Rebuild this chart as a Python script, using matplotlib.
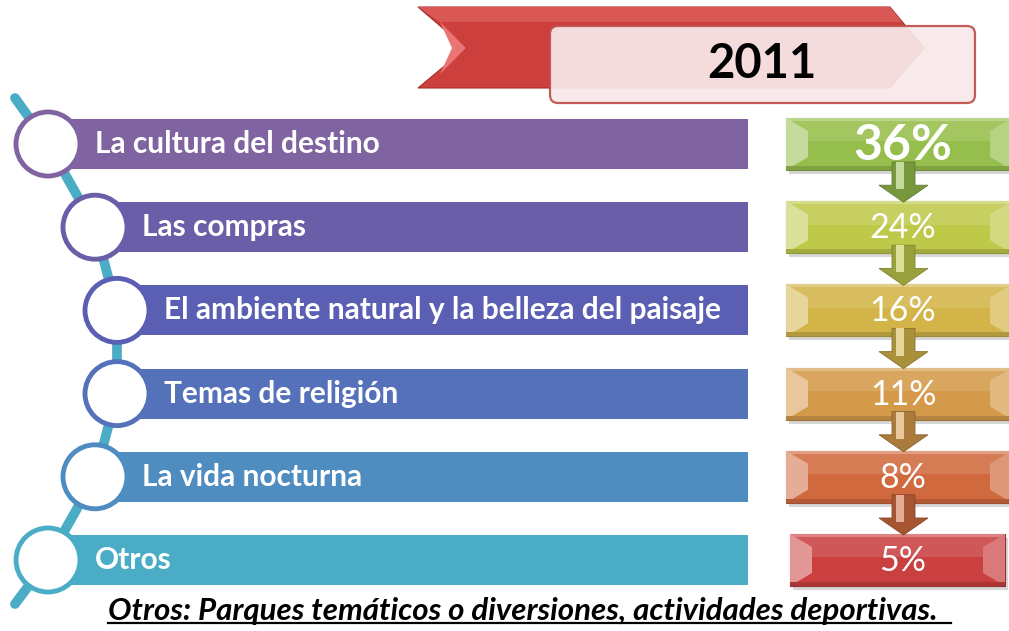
import matplotlib.pyplot as plt
import matplotlib.colors as mcolors
from matplotlib.patches import Rectangle, Circle, Polygon, FancyBboxPatch

# data
year = "2011"
categories = [
    "La cultura del destino",
    "Las compras",
    "El ambiente natural y la belleza del paisaje",
    "Temas de religión",
    "La vida nocturna",
    "Otros",
]
shares = [36, 24, 16, 11, 8, 5]
footnote = "Otros: Parques temáticos o diversiones, actividades deportivas."

bar_colors = ["#8064A2", "#6B5EA8", "#5A5FB4", "#5471BA", "#4F8CC0", "#4BACC6"]
box_colors = ["#96BE4C", "#BEC94A", "#D3B449", "#D49A4A", "#D06A3E", "#CA4040"]
line_color = "#4BACC6"


def shade(c, f):
    r, g, b = mcolors.to_rgb(c)
    if f > 0:
        return (r + (1 - r) * f, g + (1 - g) * f, b + (1 - b) * f)
    return (r * (1 + f), g * (1 + f), b * (1 + f))


fig = plt.figure(figsize=(10.09, 6.31), dpi=100)
ax = fig.add_axes([0, 0, 1, 1])
ax.set_xlim(0, 1009)
ax.set_ylim(631, 0)
ax.axis("off")

row_y = [144 + 83.2 * i for i in range(len(categories))]
circ_x = [48, 95, 117, 117, 95, 48]
bar_end = 748
bar_h = 50

# teal connector behind the circles
path_x = [15] + circ_x + [15]
path_y = [98] + row_y + [604]
ax.plot(path_x, path_y, color=line_color, lw=7, solid_capstyle="round", zorder=1)

# left bars with circles
for i, (lab, y) in enumerate(zip(categories, row_y)):
    cx = circ_x[i]
    ax.add_patch(Rectangle((cx, y - bar_h / 2), bar_end - cx, bar_h,
                           facecolor=bar_colors[i], edgecolor="none", zorder=2))
    ax.add_patch(Circle((cx, y), 32, facecolor="white", edgecolor=bar_colors[i],
                        lw=3.5, zorder=3))
    ax.text(cx + 47, y, lab, color="white", fontsize=21.5, fontweight="bold",
            family="Lato", va="center", ha="left", zorder=4)

# right boxes with bevel and arrows
box_x0, box_x1, box_h = 786, 1012, 52
for i, (v, y) in enumerate(zip(shares, row_y)):
    c = box_colors[i]
    x0, x1 = box_x0, box_x1
    if i == len(shares) - 1:
        x0, x1 = 790, 1005
    top, bot = y - box_h / 2, y + box_h / 2
    ax.add_patch(Rectangle((x0 + 3, top + 4), x1 - x0, box_h, facecolor="#bbbbbb",
                           edgecolor="none", zorder=2, alpha=0.6))
    ax.add_patch(Rectangle((x0, top), x1 - x0, box_h, facecolor=c,
                           edgecolor=shade(c, -0.25), lw=0.8, zorder=3))
    ax.add_patch(Rectangle((x0, top), x1 - x0, box_h * 0.45, facecolor=shade(c, 0.12),
                           edgecolor="none", zorder=3))
    ax.add_patch(Rectangle((x0, top), x1 - x0, 3, facecolor=shade(c, 0.35),
                           edgecolor="none", zorder=3))
    ax.add_patch(Polygon([(x0, top), (x0 + 22, top + 13), (x0 + 22, bot - 13), (x0, bot)],
                         facecolor=shade(c, 0.45), edgecolor="none", zorder=3))
    ax.add_patch(Polygon([(x1, top), (x1 - 22, top + 13), (x1 - 22, bot - 13), (x1, bot)],
                         facecolor=shade(c, 0.3), edgecolor="none", zorder=3))
    ax.add_patch(Rectangle((x0, bot - 4), x1 - x0, 4, facecolor=shade(c, -0.15),
                           edgecolor="none", zorder=3))
    if i == 0:
        ax.text(903, y + 1, f"{v}%", color="white", fontsize=36, fontweight="bold",
                family="Lato", ha="center", va="center", zorder=6)
    else:
        ax.text(903, y + 1, f"{v}%", color="white", fontsize=24.5,
                family="Lato", ha="center", va="center", zorder=6)
    if i < len(shares) - 1:
        a_top = y + 18
        a_bot = row_y[i + 1] - 25
        head = a_bot - 17
        ac = shade(c, -0.2)
        ax.add_patch(Polygon([(892, a_top), (915, a_top), (915, head), (928, head),
                              (903.5, a_bot), (879, head), (892, head)],
                             facecolor=ac, edgecolor=shade(c, -0.35), lw=0.6, zorder=5))
        ax.add_patch(Polygon([(896, a_top), (904, a_top), (904, head + 4), (896, head + 4)],
                             facecolor=shade(c, 0.45), edgecolor="none", zorder=5))

# title ribbon and box
ribbon = Polygon([(418, 7), (890, 7), (924, 48), (890, 88), (418, 88), (466, 48)],
                 facecolor="#CC3F3D", edgecolor="#A52E2C", lw=0.8, zorder=2)
ax.add_patch(ribbon)
ax.add_patch(Polygon([(418, 7), (890, 7), (902, 22), (440, 22)],
                     facecolor="#D95755", edgecolor="none", zorder=2))
ax.add_patch(Polygon([(440, 22), (466, 48), (440, 74), (452, 48)],
                     facecolor="#E77674", edgecolor="none", zorder=2))
ax.add_patch(FancyBboxPatch((550, 26), 425, 77, boxstyle="round,pad=0,rounding_size=8",
                            facecolor="#F8E9E9", edgecolor="#C0504D", lw=1.6,
                            alpha=0.93, zorder=3))
ax.text(762, 64, year, color="black", fontsize=34, fontweight="bold",
        family="Lato", ha="center", va="center", zorder=4)

# footnote
ft = ax.text(108, 611, footnote + "  ", color="black", fontsize=22.5,
             fontweight="bold", style="italic", family="Lato",
             ha="left", va="center", zorder=4)
fig.canvas.draw()
bb = ft.get_window_extent().transformed(ax.transData.inverted())
ax.plot([bb.x0, bb.x1], [max(bb.y0, bb.y1) - 2, max(bb.y0, bb.y1) - 2],
        color="black", lw=1.6, zorder=4)

fig.savefig("out.png", dpi=100)
